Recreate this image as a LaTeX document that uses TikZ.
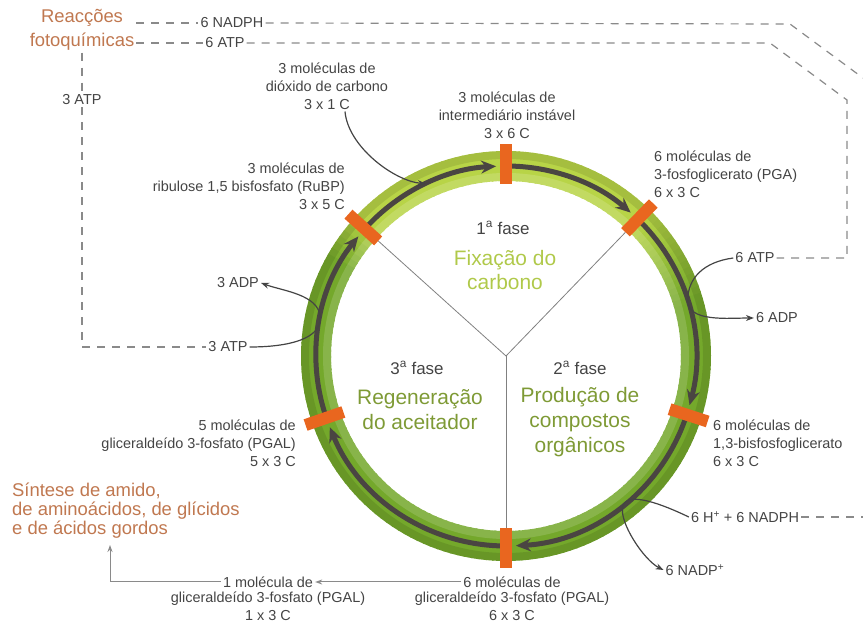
\documentclass[tikz,border=0pt]{standalone}
\usepackage{fontspec}
\setmainfont{Liberation Sans}
\usepackage{tkz-euclide}
\usetikzlibrary{arrows.meta}
\definecolor{txtgray}{HTML}{444444}
\definecolor{dashgray}{HTML}{8A8A8A}
\definecolor{leaf}{HTML}{74A82B}
\definecolor{lime}{HTML}{B8D447}
\definecolor{trackgray}{HTML}{4A4542}
\definecolor{barorange}{HTML}{E9661F}
\definecolor{olive}{HTML}{7E9A35}
\definecolor{paleleaf}{HTML}{B0C94A}
\definecolor{rust}{HTML}{C07850}

\begin{document}
\begin{tikzpicture}[x=1bp, y=1bp,
    lbl/.style={text=txtgray, font=\fontsize{14.5}{18}\selectfont, inner sep=2bp, align=center},
    big/.style={text=rust, font=\fontsize{18.5}{19}\selectfont, inner sep=2bp},
    fase/.style={text=txtgray, font=\fontsize{17}{20}\selectfont},
    title/.style={font=\fontsize{21}{25}\selectfont, align=center, inner sep=0pt},
    dashline/.style={draw=dashgray, line width=1.2bp, dash pattern=on 8bp off 7bp},
    track/.style={draw=trackgray, line width=5bp, -{Stealth[length=15bp, width=13bp, inset=5bp]}},
    bar/.style={fill=barorange, minimum width=40bp, minimum height=12bp, inner sep=0pt},
    spoke/.style={draw=gray, line width=0.8bp},
    curve/.style={draw=txtgray, line width=1.2bp, -{Stealth[length=8bp, width=6bp]}},
    outline/.style={draw=dashgray, line width=1bp, -{Stealth[length=7bp, width=5bp]}}]
    \useasboundingbox (0,0) rectangle (863,628);
    \tkzDefPoints{506/272/O, 790/604/N1, 863/550/N2, 770/585/A1, 847/528/A2, 847/370/A3, 82/281/T1, 110/83/S1, 863/111/N3}
    \foreach \a in {0,2,...,358}{
        \pgfmathsetmacro\pct{min(100,max(0,min((150-\a)*6.667,(\a-15)*3.333)))}
        \draw[line width=30bp, draw=lime!\pct!leaf] (O) ++(\a:190) arc[start angle=\a, delta angle=2.6, radius=190];
    }
    \draw[line width=8bp, black, opacity=0.1] (O) circle[radius=201];
    \draw[line width=8bp, white, opacity=0.15] (O) circle[radius=179];
    \foreach \s/\e in {138/93, 90/49, 46/-15, -18/-87, -90/-158, 199/141}
        \draw[track] (O) ++(\s:190) arc[start angle=\s, end angle=\e, radius=190];
    \foreach \a/\n in {138/bRuBP, 90/bTop, 46/bPGA, -18/bBPG, -90/bPGAL6, 199/bPGAL5}
        \path (O) ++(\a:192) node[bar, rotate=\a] (\n) {};
    \draw[spoke] (O) -- (bRuBP.west);
    \draw[spoke] (O) -- (bPGA.west);
    \draw[spoke] (O) -- (bPGAL6.west);
    \path (O) ++(115:190) coordinate (tCO2);
    \path (O) ++(168:190) coordinate (tATP3);
    \path (O) ++(17:190) coordinate (tATP6);
    \path (O) ++(-52:190) coordinate (tNADPH);

    \node[big, align=center, font=\fontsize{18.5}{24}\selectfont] (reac) at (82,598) {Reacções\\fotoquímicas};
    \node[lbl] (nadph) at (232,605) {6 NADPH};
    \node[lbl] (atp6t) at (225,585) {6 ATP};
    \node[lbl] (atp3v) at (82,528) {3 ATP};
    \node[lbl] (atp3) at (228,281) {3 ATP};
    \node[lbl] (adp3) at (238,345) {3 ADP};
    \node[lbl] (atp6) at (755,370) {6 ATP};
    \node[lbl] (adp6) at (777,310) {6 ADP};
    \node[lbl] (co2) at (327,542) {3 moléculas de\\dióxido de carbono\\3 x 1 C};
    \node[lbl] (inter) at (507,513) {3 moléculas de\\intermediário instável\\3 x 6 C};
    \node[lbl, anchor=east, align=right] (rubp) at (347,442) {3 moléculas de\\ribulose 1,5 bisfosfato (RuBP)\\3 x 5 C};
    \node[lbl, anchor=west, align=left] (pga) at (652,454) {6 moléculas de\\3-fosfoglicerato (PGA)\\6 x 3 C};
    \node[lbl, anchor=west, align=left] (bpg) at (711,185) {6 moléculas de\\1,3-bisfosfoglicerato\\6 x 3 C};
    \node[lbl, anchor=east, align=right] (pgal5) at (298,185) {5 moléculas de\\gliceraldeído 3-fosfato (PGAL)\\5 x 3 C};
    \node[big, anchor=west, align=left] (sint) at (10,117) {Síntese de amido,\\de aminoácidos, de glícidos\\e de ácidos gordos};
    \node[lbl] (nadph6) at (745,111) {6 H\textsuperscript{+} + 6 NADPH};
    \node[lbl] (nadp) at (695,58) {6 NADP\textsuperscript{+}};
    \node[lbl] (pgal1h) at (268,46) {1 molécula de};
    \node[lbl, anchor=north] (pgal1) at (pgal1h.south) {gliceraldeído 3-fosfato (PGAL)\\1 x 3 C};
    \node[lbl] (pgal6h) at (512,46) {6 moléculas de};
    \node[lbl, anchor=north] (pgal6) at (pgal6h.south) {gliceraldeído 3-fosfato (PGAL)\\6 x 3 C};

    \node[fase] (f1) at (503,400) {1\textsuperscript{a} fase};
    \node[title, text=paleleaf] (t1) at (505,358) {Fixação do\\carbono};
    \node[fase] (f3) at (417,260) {3\textsuperscript{a} fase};
    \node[title, text=olive] (t3) at (420,218) {Regeneração\\do aceitador};
    \node[fase] (f2) at (580,260) {2\textsuperscript{a} fase};
    \node[title, text=olive] (t2) at (580,206) {Produção de\\compostos\\orgânicos};

    \draw[dashline] (reac.east |- nadph) -- (nadph.west);
    \draw[dashline] (nadph.east) -- (N1) -- (N2);
    \draw[dashline] (reac.east |- atp6t) -- (atp6t.west);
    \draw[dashline] (atp6t.east) -- (A1) -- (A2) -- (A3) -- (atp6.east);
    \draw[dashline] (reac.south -| atp3v) -- (atp3v.north);
    \draw[dashline] (atp3v.south) -- (T1) -- (atp3.west);
    \draw[dashline] (nadph6.east) -- (N3);

    \draw[curve] ([xshift=18bp]co2.south) .. controls +(3,-35) and +(-32,3) .. (tCO2);
    \draw[curve] (atp3.east) .. controls +(40,0) and +(2,-22) .. (tATP3) .. controls +(-2,22) and +(22,-8) .. (adp3.east);
    \draw[curve] (atp6.west) .. controls +(-30,-4) and +(0,22) .. (tATP6) .. controls +(0,-22) and +(-25,0) .. (adp6.west);
    \draw[curve] (nadph6.west) .. controls +(-25,12) and +(5,15) .. (tNADPH) .. controls +(-5,-15) and +(-20,10) .. (nadp.west);
    \draw[outline] (pgal6h.west) -- (pgal1h.east);
    \draw[outline] (pgal1h.west) -| (S1);
\end{tikzpicture}
\end{document}
